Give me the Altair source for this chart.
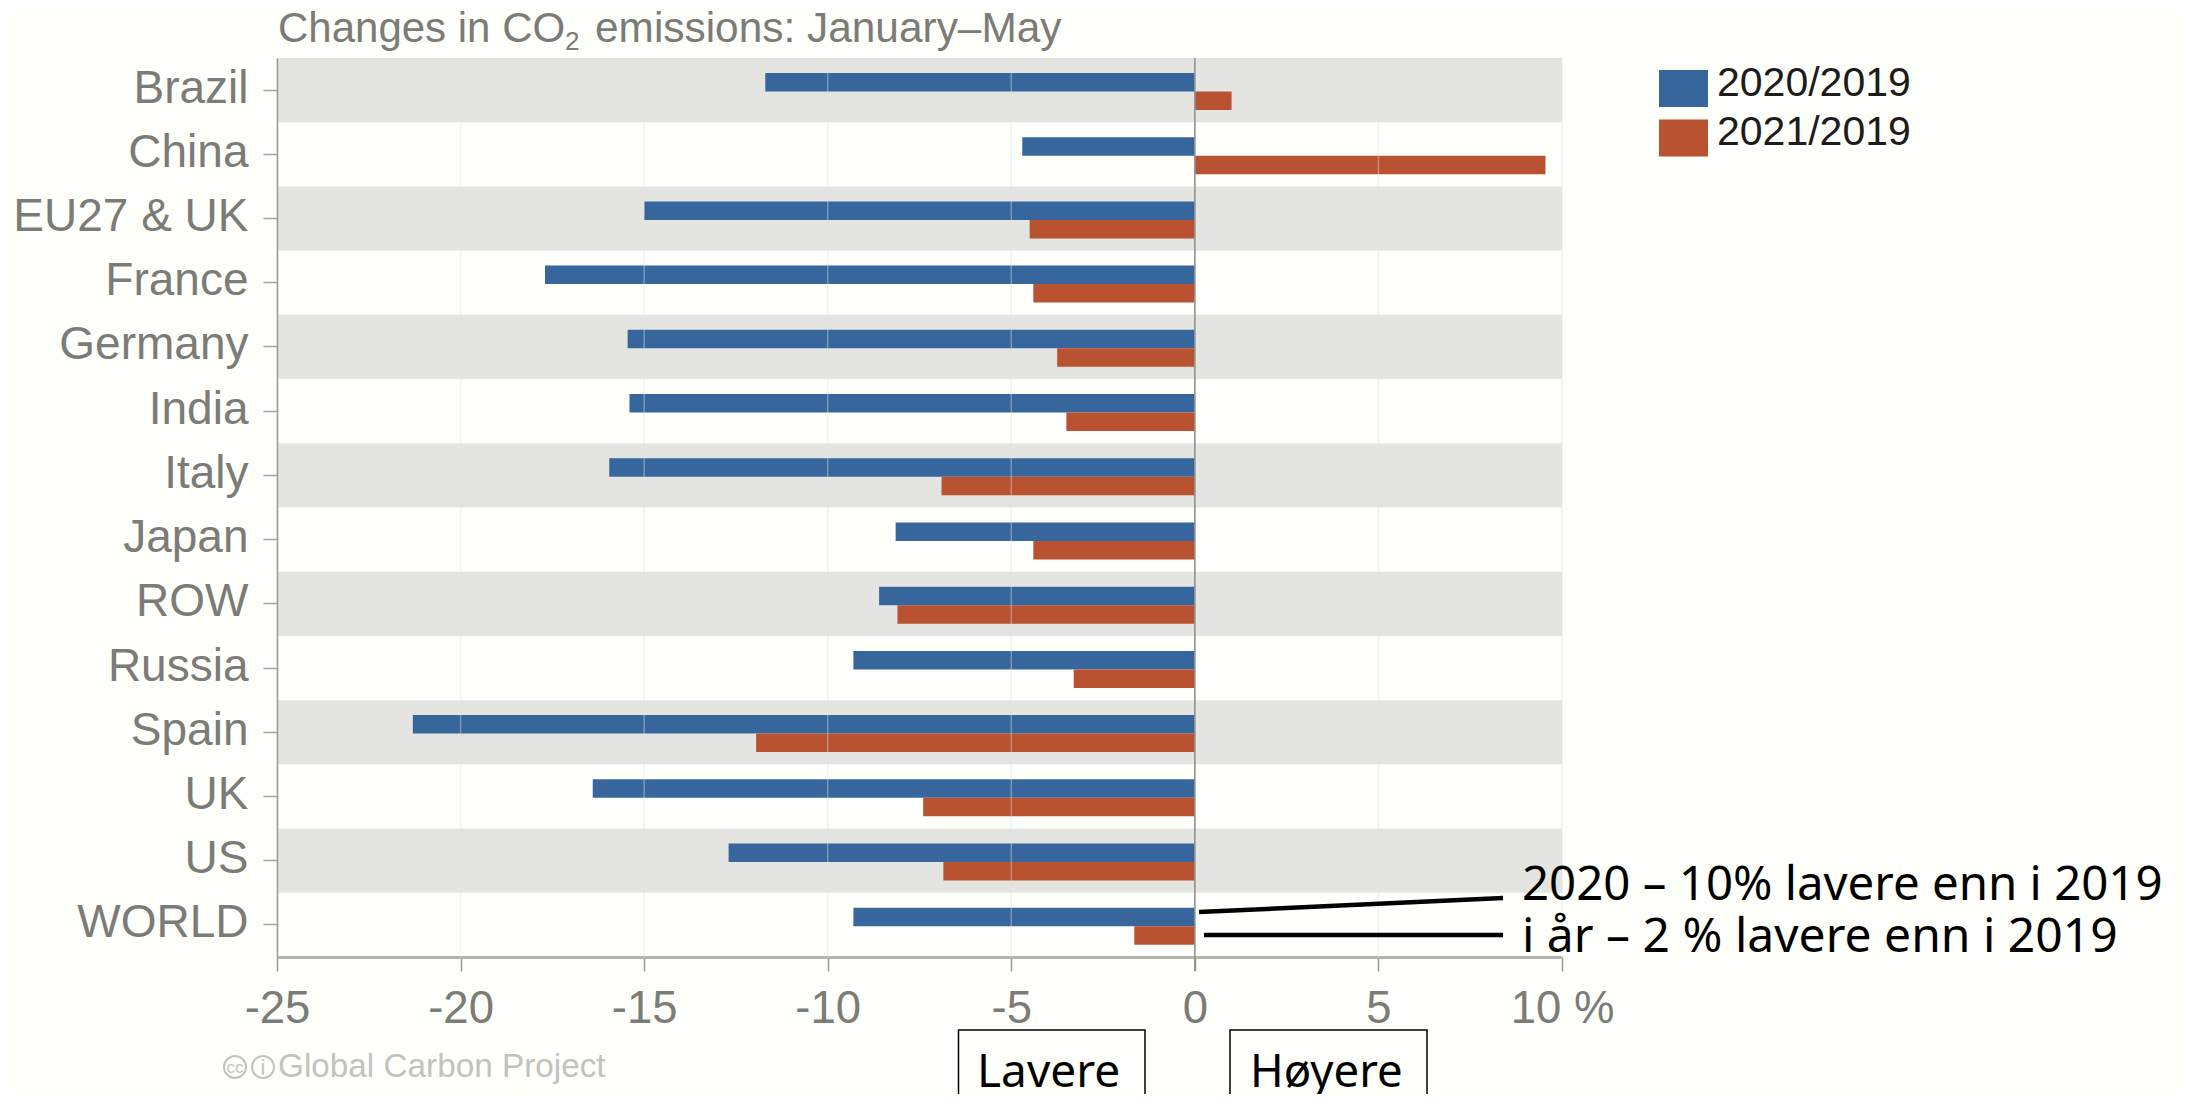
import altair as alt
import pandas as pd

countries = ["Brazil", "China", "EU27 & UK", "France", "Germany", "India", "Italy",
             "Japan", "ROW", "Russia", "Spain", "UK", "US", "WORLD"]
v2020 = [-11.7, -4.7, -15.0, -17.7, -15.45, -15.4, -15.95, -8.15, -8.6, -9.3, -21.3, -16.4, -12.7, -9.3]
v2021 = [1.0, 9.55, -4.5, -4.4, -3.75, -3.5, -6.9, -4.4, -8.1, -3.3, -11.95, -7.4, -6.85, -1.65]
series = ["2020/2019", "2021/2019"]
colors = ["#36669c", "#b95231"]
x_ticks = [-25, -20, -15, -10, -5, 0, 5, 10]
striped = countries[0::2]

BG = "#fefffa"
GREY = "#7b7b77"
W, H = 1285, 899
OX, OY = 277, 58

bars_df = pd.DataFrame(
    [{"c": c, "s": series[0], "v": a} for c, a in zip(countries, v2020)]
    + [{"c": c, "s": series[1], "v": b} for c, b in zip(countries, v2021)]
)
stripes_df = pd.DataFrame({"c": striped, "a": [x_ticks[0]] * len(striped), "b": [x_ticks[-1]] * len(striped)})
grid_df = pd.DataFrame({"x": x_ticks})

x_scale = alt.Scale(domain=[x_ticks[0], x_ticks[-1]], nice=False)
y_scale = alt.Scale(domain=countries, paddingInner=0, paddingOuter=0)

x_axis = alt.Axis(
    values=x_ticks, title=None, grid=False, tickSize=14, tickColor="#9a9a98", tickWidth=1.5,
    domainColor="#b4b4b1", domainWidth=3, labelFont="Liberation Sans", labelFontSize=45.5,
    labelColor=GREY, labelPadding=15, labelFlush=False, labelOverlap=False,
    labelExpr="datum.value == 10 ? '10 %' : '' + datum.value")
y_axis = alt.Axis(
    title=None, grid=False, tickSize=14, tickColor="#a5a5a2", tickWidth=1.5,
    domainColor="#9a9a98", domainWidth=1.5, labelFont="Liberation Sans", labelFontSize=46,
    labelColor=GREY, labelPadding=15, labelLimit=400, labelOffset=-1.5)

stripes = alt.Chart(stripes_df).mark_rect(color="#e4e5e1").encode(
    x=alt.X("a:Q", scale=x_scale, axis=x_axis),
    x2="b:Q",
    y=alt.Y("c:N", scale=y_scale, sort=countries, axis=y_axis),
)

bars = alt.Chart(bars_df).mark_bar(size=18.5, orient="horizontal").encode(
    x=alt.X("v:Q", scale=x_scale, axis=x_axis),
    x2=alt.value(W * 25 / 35),
    y=alt.Y("c:N", scale=y_scale, sort=countries, axis=y_axis),
    yOffset=alt.YOffset("s:N", sort=series, scale=alt.Scale(paddingInner=0, paddingOuter=0.735, align=0.55)),
    color=alt.Color("s:N", sort=series, scale=alt.Scale(domain=series, range=colors),
        legend=alt.Legend(
            title=None, orient="none", legendX=1659 - OX, legendY=69 - OY - 10,
            symbolType="M-1,-0.555H1V0.955H-1Z", symbolSize=2401, symbolStrokeWidth=0,
            symbolOpacity=1, labelFont="Liberation Sans", labelFontSize=41, labelColor="#1c1c1c",
            labelOffset=9, labelLimit=400, rowPadding=1.5, padding=0)),
)

grid = alt.Chart(grid_df).mark_rule(color="#dfe2e8", opacity=0.4, strokeWidth=1.5).encode(
    x=alt.X("x:Q", scale=x_scale, axis=x_axis))
zero = alt.Chart(pd.DataFrame({"x": [0]})).mark_rule(color="#8c8c8a", strokeWidth=1.5).encode(
    x=alt.X("x:Q", scale=x_scale, axis=x_axis), y=alt.value(0), y2=alt.value(H + 14))


def label(text, px, py, size, color, font="Liberation Sans", align="left"):
    return alt.Chart(pd.DataFrame({"t": [text]})).mark_text(
        font=font, fontSize=size, color=color, align=align, baseline="alphabetic"
    ).encode(text="t:N", x=alt.value(px - OX), y=alt.value(py - OY))


def line(x1, y1, x2, y2, width, color="#000000"):
    return alt.Chart(pd.DataFrame({"k": [0]})).mark_rule(color=color, strokeWidth=width).encode(
        x=alt.value(x1 - OX), x2=alt.value(x2 - OX), y=alt.value(y1 - OY), y2=alt.value(y2 - OY))


def box(x1, y1, x2, y2):
    return alt.Chart(pd.DataFrame({"k": [0]})).mark_rect(
        fillOpacity=0, stroke="#000000", strokeWidth=1.5).encode(
        x=alt.value(x1 - OX), x2=alt.value(x2 - OX), y=alt.value(y1 - OY), y2=alt.value(y2 - OY))


def ring(px, py):
    return alt.Chart(pd.DataFrame({"k": [0]})).mark_point(
        shape="circle", filled=False, size=484, color="#c2c2be", strokeWidth=2, opacity=1).encode(
        x=alt.value(px - OX), y=alt.value(py - OY))


ANNOT = "Noto Sans"
extras = [
    label("Changes in CO", 278, 42, 42, GREY),
    label("2", 565, 50, 26, GREY),
    label("emissions: January–May", 595, 42, 42.4, GREY),
    line(1199, 912, 1503, 898, 4.5),
    line(1204, 935, 1503, 935, 4.5),
    label("2020 – 10% lavere enn i 2019", 1522, 900, 47.4, "#000000", ANNOT),
    label("i år – 2 % lavere enn i 2019", 1522, 952, 48, "#000000", ANNOT),
    box(958.5, 1030, 1145, 1130),
    box(1230, 1030, 1427, 1130),
    label("Lavere", 977, 1087, 46, "#000000", ANNOT),
    label("Høyere", 1250, 1087, 45.5, "#000000", ANNOT),
    ring(235, 1067),
    ring(263, 1067),
    label("cc", 235, 1073, 17, "#c2c2be", align="center"),
    label("i", 263, 1075, 22, "#c2c2be", align="center"),
    label("Global Carbon Project", 278, 1077, 33.3, "#c2c2be"),
]

chart = alt.layer(stripes, bars, grid, zero, *extras).properties(
    width=W, height=H, background=BG,
    autosize=alt.AutoSizeParams(type="none"),
    padding={"left": OX - 8, "top": OY - 8, "right": 2176 - (OX - 8) - W, "bottom": 1086 - (OY - 8) - H},
).configure_view(stroke=None)

chart.save("out.html", embed_options={"renderer": "svg", "actions": False})
